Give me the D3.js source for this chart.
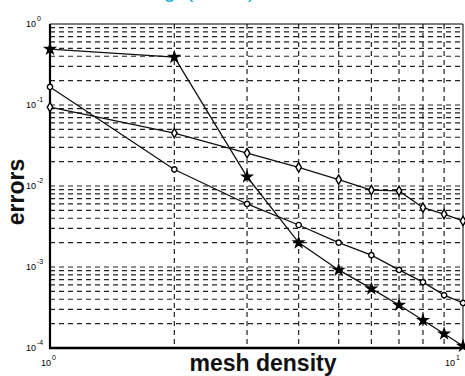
<!DOCTYPE html>
<html><head><meta charset="utf-8">
<script src="https://cdn.jsdelivr.net/npm/d3@7/dist/d3.min.js"></script>
<style>html,body{margin:0;padding:0;background:#fff;overflow:hidden}</style>
</head><body>
<svg id="c" width="465" height="376"></svg>
<script>
const meshDensity = [1, 2, 3, 4, 5, 6, 7, 8, 9, 10];
const seriesStar    = [0.49, 0.39, 0.013, 0.002, 0.00092, 0.00054, 0.00034, 0.00022, 0.00015, 0.000106];
const seriesCircle  = [0.167, 0.016, 0.006, 0.0033, 0.002, 0.0014, 0.00092, 0.00065, 0.00045, 0.00036];
const seriesDiamond = [0.094, 0.045, 0.0255, 0.017, 0.012, 0.0089, 0.0087, 0.0054, 0.0045, 0.0037];
const yTickExps = ["0", "-1", "-2", "-3", "-4"];
const xTickExps = ["0", "1"];
const titleText = "Error of meshing (FEM)";
const xLabel = "mesh density";
const yLabel = "errors";

const svg = d3.select("#c");
const L = 50, R = 463, T = 24, B = 348;
const x = d3.scaleLog().domain([1, 10]).range([L, R]);
const y = d3.scaleLog().domain([1e-4, 1]).range([B, T]);
const font = "Liberation Sans, Arial, sans-serif";

// title (only its descenders show at the very top)
svg.append("text").attr("x", 257).attr("y", -3).attr("text-anchor", "end")
  .attr("font-family", font).attr("font-size", 22).attr("letter-spacing", 2)
  .attr("fill", "#1cb4cc").text(titleText);

// grid
const g = svg.append("g");
const xs = [2,3,4,5,6,7,8,9];
g.selectAll(".vg").data(xs).enter().append("line")
  .attr("x1", d => x(d)).attr("x2", d => x(d)).attr("y1", T).attr("y2", B)
  .attr("stroke", "#222").attr("stroke-width", 1.2).attr("stroke-dasharray", "5,4");
const ys = [];
for (let e = -4; e < 0; e++) for (let k = 1; k <= 9; k++) { const v = k * Math.pow(10, e); if (v > 1e-4 && v < 1) ys.push(v); }
g.selectAll(".hg").data(ys).enter().append("line")
  .attr("x1", L).attr("x2", R).attr("y1", d => y(d)).attr("y2", d => y(d))
  .attr("stroke", "#222").attr("stroke-width", 1.2).attr("stroke-dasharray", "5,4");

// frame
svg.append("line").attr("x1", L).attr("x2", R).attr("y1", T).attr("y2", T).attr("stroke", "#000").attr("stroke-width", 1.2);
svg.append("line").attr("x1", R).attr("x2", R).attr("y1", T).attr("y2", B).attr("stroke", "#000").attr("stroke-width", 1);
svg.append("line").attr("x1", L).attr("x2", L).attr("y1", T).attr("y2", B + 1).attr("stroke", "#000").attr("stroke-width", 2.2);
svg.append("line").attr("x1", L - 1).attr("x2", R).attr("y1", B).attr("y2", B).attr("stroke", "#000").attr("stroke-width", 2.6);

// series
const line = d3.line().x((d, i) => x(meshDensity[i])).y(d => y(d));
const series = [
  {vals: seriesStar, sym: d3.symbolStar, size: 30, fill: "#000"},
  {vals: seriesCircle, sym: d3.symbolCircle, size: 22, fill: "#fff"},
  {vals: seriesDiamond, sym: d3.symbolDiamond, size: 26, fill: "#fff"}
];
series.forEach(s => {
  svg.append("path").datum(s.vals).attr("d", line).attr("fill", "none")
    .attr("stroke", "#111").attr("stroke-width", 1.3);
  svg.selectAll(null).data(s.vals).enter().append("path")
    .attr("d", d3.symbol().type(s.sym).size(s.size))
    .attr("transform", (d, i) => `translate(${x(meshDensity[i])},${y(d)})`)
    .attr("fill", s.fill).attr("stroke", "#000").attr("stroke-width", 1.4);
});

// tick labels
yTickExps.forEach(e => {
  const v = Math.pow(10, +e);
  svg.append("text").attr("x", 36).attr("y", y(v) + 3).attr("text-anchor", "end")
    .attr("font-family", font).attr("font-size", 9).attr("fill", "#000").text("10");
  svg.append("text").attr("x", 37).attr("y", y(v) - 3).attr("font-family", font)
    .attr("font-size", 7).attr("fill", "#000").text(e);
});
xTickExps.forEach(e => {
  const v = Math.pow(10, +e);
  svg.append("text").attr("x", Math.min(x(v) + 1, 455)).attr("y", 366).attr("text-anchor", "end")
    .attr("font-family", font).attr("font-size", 9).attr("fill", "#000").text("10");
  svg.append("text").attr("x", Math.min(x(v) + 2, 456)).attr("y", 360).attr("font-family", font)
    .attr("font-size", 7).attr("fill", "#000").text(e);
});

// axis labels
svg.append("text").attr("x", 263).attr("y", 371).attr("text-anchor", "middle")
  .attr("font-family", font).attr("font-weight", "bold").attr("font-size", 23).attr("fill", "#111").text(xLabel);
svg.append("text").attr("transform", "translate(24,192) rotate(-90)").attr("text-anchor", "middle")
  .attr("font-family", font).attr("font-weight", "bold").attr("font-size", 23).attr("fill", "#111").text(yLabel);
</script>
</body></html>
